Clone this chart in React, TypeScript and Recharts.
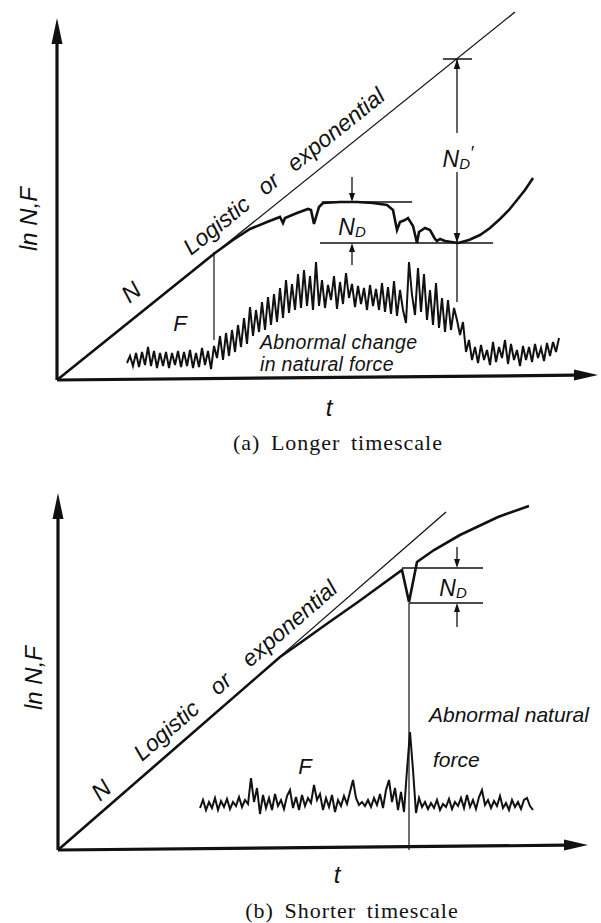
import React from 'react'
import { LineChart, Line, XAxis, YAxis, ReferenceLine, ReferenceDot } from 'recharts'

const INK = '#111'
const SANS = '"Liberation Sans", Arial, sans-serif'
const SERIF = '"Liberation Serif", "Times New Roman", serif'

// (a) longer timescale — t along the time axis, v = ln N / F, both from the origin
const aTrend = [[0, 0], [458, 368]]
const aN = [
  [0, 0], [158, 127], [176, 140], [193, 151], [210, 158], [223, 163], [226, 157], [228, 162],
  [240, 167], [251, 171], [254, 170], [257, 156], [262, 173], [266, 177], [283, 178], [300, 178],
  [316, 177], [330, 175], [336, 170], [340, 150], [343, 158], [348, 160], [351, 162], [356, 154],
  [360, 137], [362, 148], [368, 152], [373, 150], [378, 141], [380, 139], [383, 141], [388, 139],
  [401, 137], [412, 140], [423, 145], [433, 152], [443, 161], [452, 170], [460, 180], [468, 190],
  [476, 202],
]
const aFStart = 70
const aFStep = 3
const aF = [
  17, 24, 14, 27, 13, 28, 15, 33, 14, 29,
  12, 27, 14, 28, 12, 27, 15, 29, 13, 28,
  14, 30, 12, 27, 13, 32, 15, 29, 11, 34,
  22, 44, 20, 47, 24, 50, 28, 55, 33, 62,
  36, 73, 44, 70, 48, 78, 50, 83, 55, 86,
  58, 92, 62, 100, 67, 96, 70, 106, 72, 110,
  74, 104, 70, 118,
  74, 100, 72, 95, 80, 104, 71, 98, 76, 107,
  82, 96, 73, 94, 76, 92, 70, 95, 74, 91,
  70, 97, 68, 93, 66, 99, 64, 90, 70, 57,
  118, 85, 65, 112, 68, 106, 60, 90, 55, 97,
  52, 82, 48, 80, 50, 72, 60, 45, 58, 28,
  40, 20,
  33, 17, 35, 20, 30, 15, 38, 18, 33, 22,
  40, 16, 36, 20, 30, 14, 34, 20, 33, 18,
  36, 22, 32, 19, 37, 24, 38, 28, 42,
]
const aOnset = 157 // t where the disturbance starts
const aRecover = 400 // t of the lowest N
const aNDTop = 178
const aNDLow = 137
const aTrendAtRecover = 321

// (b) shorter timescale
const bTrend = [[0, 0], [388, 338]]
const bN = [
  [0, 0], [222, 193], [242, 207], [270, 227], [300, 248], [344, 280], [351, 248], [359, 288],
  [376, 300], [402, 315], [440, 333], [471, 344],
]
const bFStart = 142
const bFStep = 3
const bF = [
  42, 50, 40, 48, 42, 52, 40, 49, 43, 51,
  41, 48, 44, 53, 43, 50, 46, 72, 48, 62,
  36, 55, 42, 52, 40, 56, 44, 50, 41, 54,
  60, 42, 53, 40, 55, 44, 52, 47, 65, 50,
  56, 40, 52, 43, 55, 38, 50, 44, 54, 46,
  58, 70, 52, 45, 48, 44, 50, 43, 52, 45,
  56, 42, 60, 70, 48, 62, 40, 58, 38, 80,
  118,
  80, 37, 52, 43, 48, 41, 47, 42, 50, 40,
  46, 43, 51, 41, 48, 44, 52, 42, 55, 43,
  50, 41, 53, 60, 45, 50, 42, 49, 44, 54,
  42, 47, 40, 50, 43, 48, 41, 50, 52, 44,
  40,
]
const bShock = 351
const bNDTop = 282
const bNDLow = 247

const pts = (pairs: number[][]) => pairs.map(([t, v]) => ({ t, v }))
const series = (start: number, step: number, vals: number[]) => vals.map((v, i) => ({ t: start + i * step, v }))

const seg = (key: string, a: number[], b: number[], w = 1.4) => (
  <ReferenceLine
    key={key}
    segment={[{ x: a[0], y: a[1] }, { x: b[0], y: b[1] }]}
    stroke={INK}
    strokeWidth={w}
    ifOverflow="visible"
  />
)

// filled arrow tip sitting at (t, v)
const head = (key: string, t: number, v: number, dir: 'up' | 'down' | 'right', len = 10, half = 3.2) => (
  <ReferenceDot
    key={key}
    x={t}
    y={v}
    r={0}
    ifOverflow="visible"
    shape={(p: any) => {
      const { cx, cy } = p
      let d = ''
      if (dir === 'up') d = `M${cx},${cy} L${cx - half},${cy + len} L${cx + half},${cy + len} Z`
      if (dir === 'down') d = `M${cx},${cy} L${cx - half},${cy - len} L${cx + half},${cy - len} Z`
      if (dir === 'right') d = `M${cx},${cy} L${cx - len},${cy - half} L${cx - len},${cy + half} Z`
      return <path d={d} fill={INK} />
    }}
  />
)

const tag = (key: string, t: number, v: number, body: React.ReactNode, o: any = {}) => (
  <ReferenceDot
    key={key}
    x={t}
    y={v}
    r={0}
    ifOverflow="visible"
    shape={(p: any) => (
      <text
        x={p.cx}
        y={p.cy}
        fontFamily={o.family ?? SANS}
        fontStyle={o.upright ? 'normal' : 'italic'}
        fontSize={o.size ?? 21}
        textAnchor={o.anchor ?? 'start'}
        dominantBaseline={o.mid ? 'central' : 'auto'}
        letterSpacing={o.ls}
        wordSpacing={o.ws}
        fill={INK}
        transform={o.rot ? `rotate(${o.rot} ${p.cx} ${p.cy})` : undefined}
      >
        {body}
      </text>
    )}
  />
)

const ND = (prime = false) => (
  <>
    <tspan>N</tspan>
    <tspan fontSize="15" dy="2">D</tspan>
    {prime && <tspan dy="-10" fontSize="18">′</tspan>}
  </>
)

const line = (data: any[], w: number, key: string) => (
  <Line
    key={key}
    data={data}
    dataKey="v"
    type="linear"
    stroke={INK}
    strokeWidth={w}
    strokeLinejoin="miter"
    dot={false}
    activeDot={false}
    isAnimationActive={false}
  />
)

function PanelA() {
  return (
    <LineChart width={601} height={460} margin={{ top: 0, right: 0, bottom: 0, left: 0 }}>
      <XAxis type="number" dataKey="t" domain={[-57, 544]} hide allowDataOverflow />
      <YAxis type="number" dataKey="v" domain={[-80, 380]} hide allowDataOverflow />
      {line(pts([[0, 0], [518, 4.8]]), 3.2, 'ax')}
      {line(pts([[0, 0], [0, 338]]), 3.2, 'ay')}
      {head('hx', 541, 5, 'right', 24, 5.5)}
      {head('hy', 0, 362, 'up', 26, 5.5)}
      {line(pts(aTrend), 1.3, 'trend')}
      {line(pts(aN), 2.6, 'n')}
      {line(series(aFStart, aFStep, aF), 2, 'f')}
      {seg('v1', [aOnset, 128], [aOnset, 40], 1.2)}
      {seg('v2', [aRecover, aTrendAtRecover], [aRecover, 247], 1.3)}
      {seg('v3', [aRecover, 208], [aRecover, 78], 1.3)}
      {seg('tk', [386, aTrendAtRecover], [415, aTrendAtRecover], 1.5)}
      {head('h1', aRecover, aTrendAtRecover, 'up')}
      {head('h2', aRecover, aNDLow, 'down')}
      {seg('ndt', [265, aNDTop], [355, aNDTop], 1.4)}
      {seg('ndl', [263, aNDLow], [436, aNDLow], 1.4)}
      {seg('a1', [295, 203], [295, aNDTop + 8], 1.3)}
      {head('h3', 295, aNDTop, 'down', 9, 3)}
      {seg('a2', [295, 115], [295, aNDLow - 8], 1.3)}
      {head('h4', 295, aNDLow, 'up', 9, 3)}
      {tag('y', -20, 161, 'ln N,F', { rot: -90, anchor: 'middle', size: 24 })}
      {tag('n', 74, 88, 'N', { rot: -39, anchor: 'middle', mid: true, size: 24 })}
      {tag('f', 123, 57, 'F', { anchor: 'middle', mid: true, size: 22 })}
      {tag('lg', 134, 124, 'Logistic or exponential', { rot: -38.8, size: 23, ws: 11 })}
      {tag('ab1', 203, 31, 'Abnormal change', { size: 19.5, ls: 0.3 })}
      {tag('ab2', 203, 9, 'in natural force', { size: 19.5, ls: 0.3 })}
      {tag('nd', 295, 145, ND(), { anchor: 'middle', size: 23 })}
      {tag('ndp', 401, 213, ND(true), { anchor: 'middle', size: 23 })}
      {tag('t', 272, -27, 't', { anchor: 'middle', mid: true, size: 24 })}
      {tag('cap', 281, -70, '(a) Longer timescale', { anchor: 'middle', family: SERIF, upright: true, size: 22, ls: 1, ws: 4 })}
    </LineChart>
  )
}

function PanelB() {
  return (
    <LineChart width={601} height={463} margin={{ top: 0, right: 0, bottom: 0, left: 0 }}>
      <XAxis type="number" dataKey="t" domain={[-58, 543]} hide allowDataOverflow />
      <YAxis type="number" dataKey="v" domain={[-73, 390]} hide allowDataOverflow />
      {line(pts([[0, 0], [507, 4.8]]), 3.2, 'ax')}
      {line(pts([[0, 0], [0, 333]]), 3.2, 'ay')}
      {head('hx', 530, 5, 'right', 24, 5.5)}
      {head('hy', 0, 357, 'up', 26, 5.5)}
      {line(pts(bTrend), 1.3, 'trend')}
      {line(pts(bN), 2.6, 'n')}
      {line(series(bFStart, bFStep, bF), 2, 'f')}
      {seg('v1', [bShock, bNDLow], [bShock, 0], 1.2)}
      {seg('ndt', [344, bNDTop], [425, bNDTop], 1.4)}
      {seg('ndl', [bShock, bNDLow], [425, bNDLow], 1.4)}
      {seg('a1', [399, 303], [399, bNDTop + 8], 1.3)}
      {head('h1', 399, bNDTop, 'down', 9, 3)}
      {seg('a2', [399, 223], [399, bNDLow - 8], 1.3)}
      {head('h2', 399, bNDLow, 'up', 9, 3)}
      {tag('y', -16, 172, 'ln N,F', { rot: -90, anchor: 'middle', size: 24 })}
      {tag('n', 43, 60, 'N', { rot: -41, anchor: 'middle', mid: true, size: 24 })}
      {tag('lg', 84, 88, 'Logistic or exponential', { rot: -41, size: 23, ws: 16 })}
      {tag('f', 247, 84, 'F', { anchor: 'middle', mid: true, size: 22 })}
      {tag('ab1', 371, 128, 'Abnormal natural', { size: 21 })}
      {tag('ab2', 375, 83, 'force', { size: 21 })}
      {tag('nd', 395, 254, ND(), { anchor: 'middle', size: 23 })}
      {tag('t', 279, -24, 't', { anchor: 'middle', mid: true, size: 24 })}
      {tag('cap', 294, -68, '(b) Shorter timescale', { anchor: 'middle', family: SERIF, upright: true, size: 22, ls: 1, ws: 4 })}
    </LineChart>
  )
}

export default function App() {
  return (
    <div style={{ position: 'absolute', left: 0, top: 0, width: 601, height: 923, background: '#fff', overflow: 'hidden' }}>
      <PanelA />
      <PanelB />
    </div>
  )
}
